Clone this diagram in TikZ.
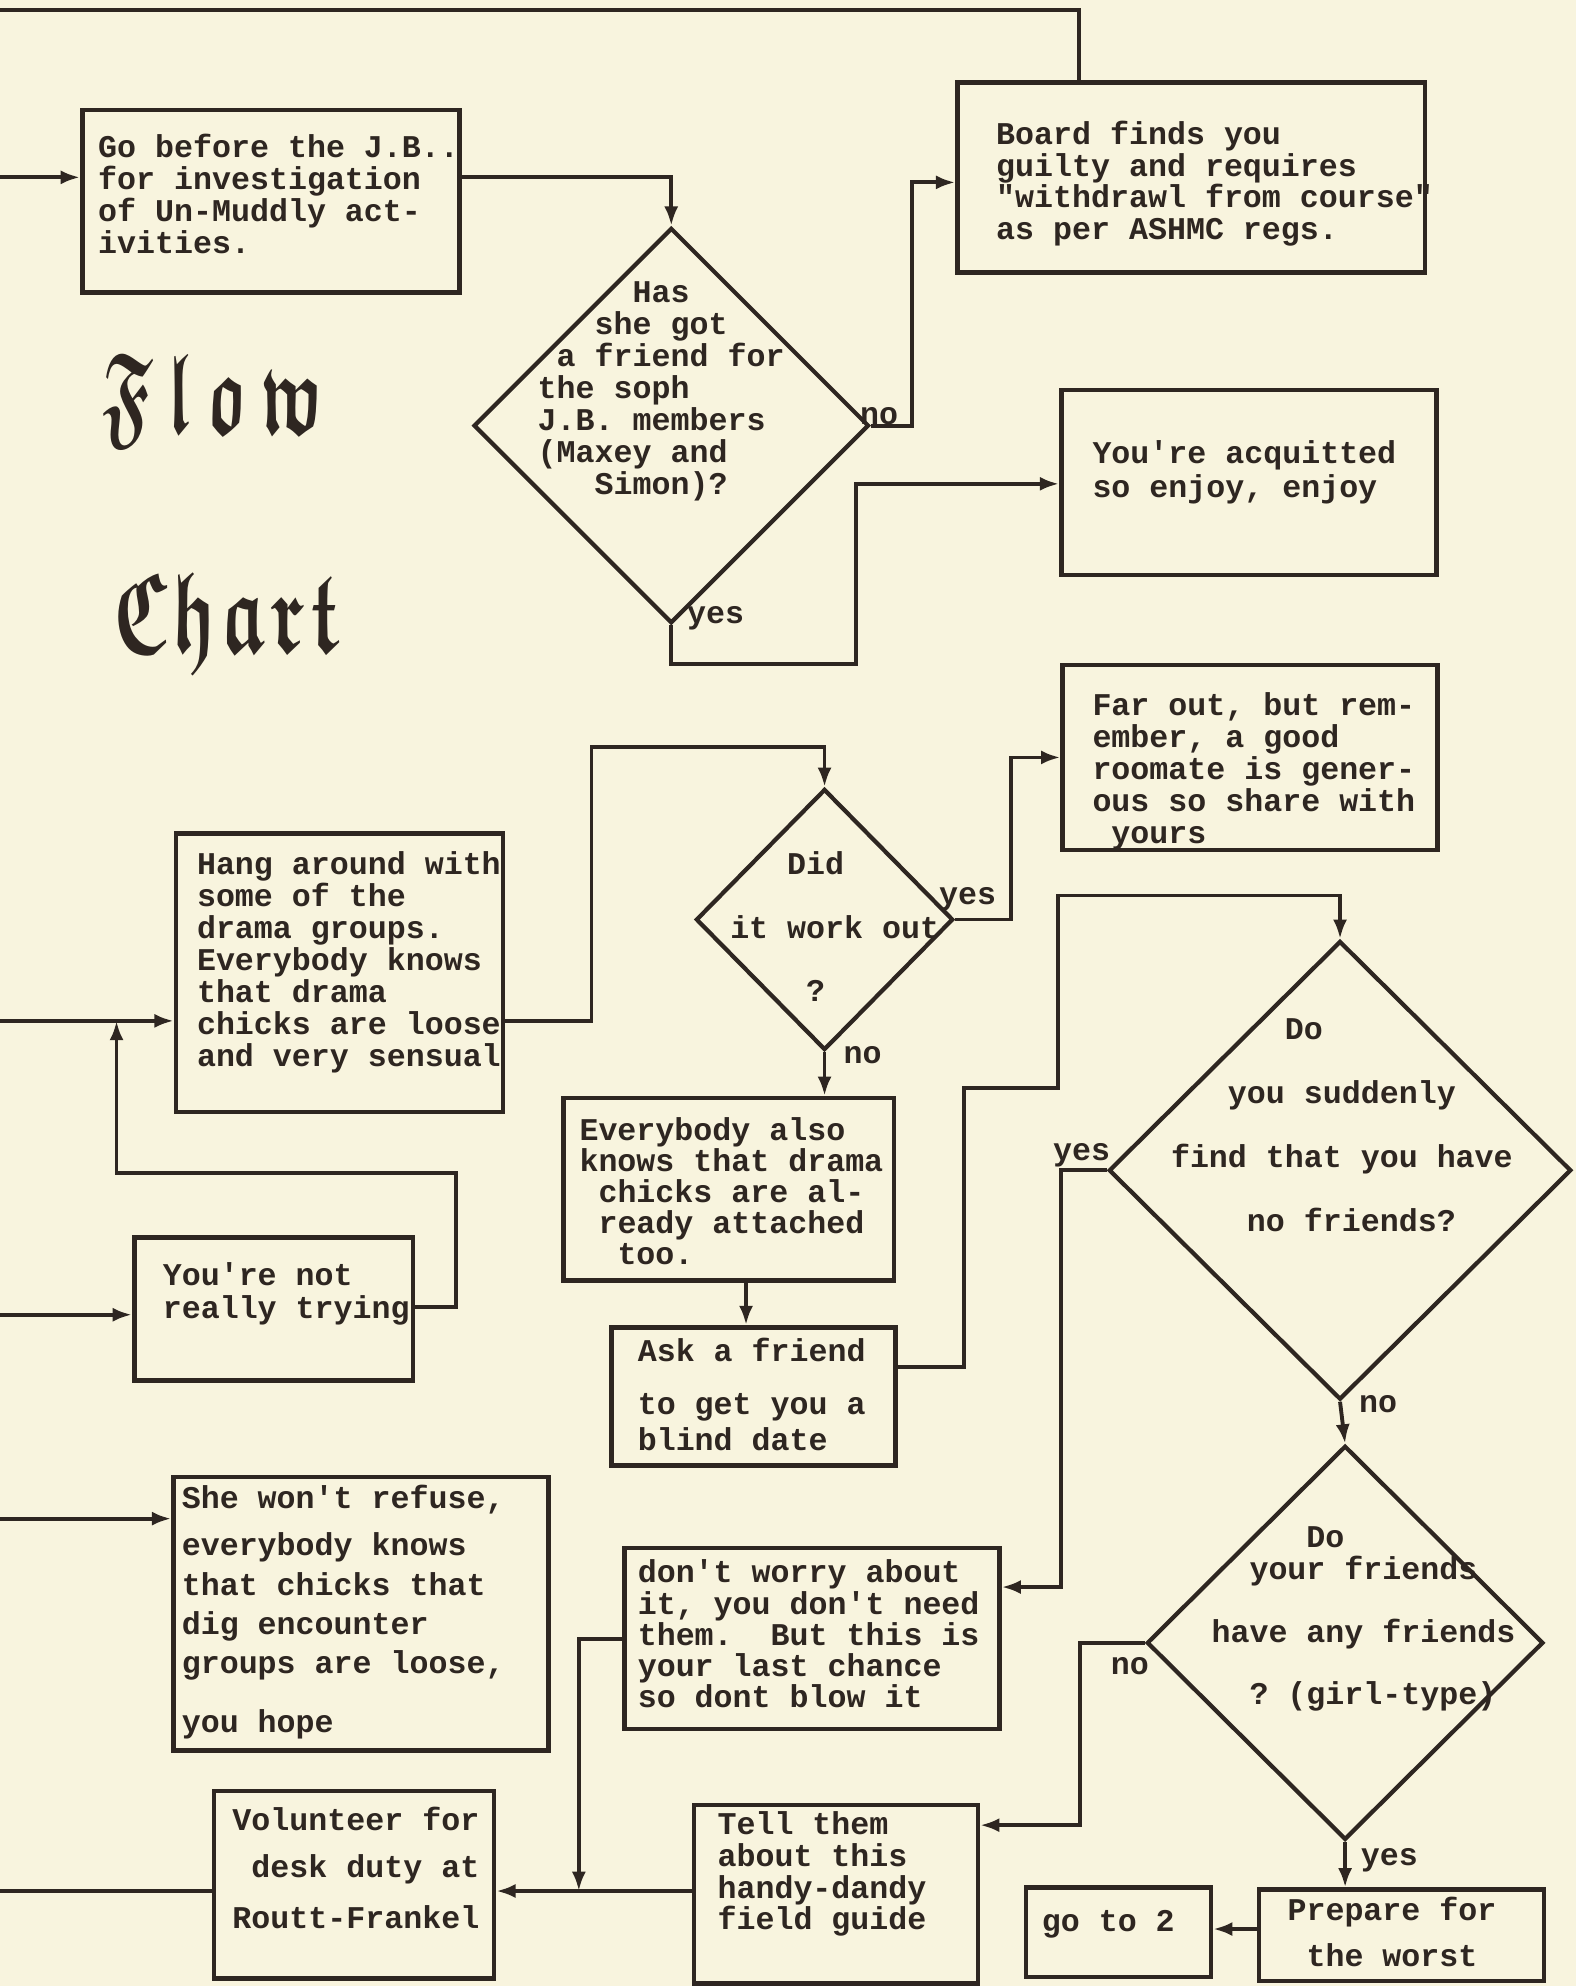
\documentclass[tikz,border=0pt]{standalone}
\usepackage{amsmath,amssymb}
\usepackage{fontspec}
\setmonofont{Liberation Mono}
\usetikzlibrary{fit,shapes.geometric,arrows.meta}
\definecolor{bg}{HTML}{F8F4DE}
\definecolor{ink}{HTML}{2E2621}
\tikzset{
  boxn/.style={draw=ink, line width=1.3pt, inner sep=0pt},
  dia/.style={diamond, draw=ink, line width=1.2pt, inner sep=0pt},
  conn/.style={draw=ink, line width=1.1pt},
  arr/.style={conn, -{Latex[length=5.5pt,width=4pt]}},
  txt/.style={anchor=north west, inner sep=0pt, align=left, text=ink},
  tw/.style={font=\ttfamily\bfseries\fontsize{9}{#1}\selectfont},
  lbl/.style={anchor=mid, inner sep=0pt, text=ink, font=\ttfamily\bfseries\fontsize{9}{9}\selectfont},
  ttl/.style={anchor=base west, inner sep=0pt, text=ink, font=\fontsize{33}{33}\selectfont}
}
\newcommand{\frk}[1]{$\boldsymbol{\mathfrak{#1}}$}
\begin{document}
\begin{tikzpicture}[x=0.012669cm,y=-0.012669cm]
\fill[bg] (0,0) rectangle (1244,1568);
\useasboundingbox (0,0) rectangle (1244,1568);

% title
\node[ttl] (flow) at (80,342) {\scalebox{0.6}[1]{\frk{F}\hspace{7pt}\frk{l}\hspace{7pt}\frk{o}\hspace{6pt}\frk{w}}};
\node[ttl] (chart) at (89,515) {\scalebox{0.64}[1]{\frk{C}\hspace{2pt}\frk{h}\hspace{2pt}\frk{a}\hspace{2pt}\frk{r}\hspace{2pt}\frk{t}}};

% boxes
\node[boxn, fit={(65,87) (363,231)}] (go) {};
\node[boxn, fit={(756,65) (1125,215)}] (board) {};
\node[boxn, fit={(838,308) (1134,454)}] (acq) {};
\node[boxn, fit={(839,525) (1135,671)}] (far) {};
\node[boxn, fit={(139,658) (397,878)}] (hang) {};
\node[boxn, fit={(106,977) (326,1090)}] (notry) {};
\node[boxn, fit={(445,867) (706,1011)}] (every) {};
\node[boxn, fit={(483,1048) (707,1157)}] (ask) {};
\node[boxn, fit={(137,1166) (433,1382)}] (she) {};
\node[boxn, fit={(493,1222) (789,1365)}] (worry) {};
\node[boxn, fit={(548,1425) (772,1566)}] (tell) {};
\node[boxn, fit={(169,1414) (390,1562)}] (vol) {};
\node[boxn, fit={(810,1490) (956,1561)}] (goto) {};
\node[boxn, fit={(994,1492) (1219,1564)}] (prep) {};

% diamonds
\node[dia, minimum width=3.953cm, minimum height=3.953cm] (d1) at (530,336) {};
\node[dia, minimum width=2.572cm, minimum height=2.610cm] (d2) at (651,726) {};
\node[dia, minimum width=4.624cm, minimum height=4.586cm] (d3) at (1058,924) {};
\node[dia, minimum width=3.965cm, minimum height=3.940cm] (d4) at (1062,1297) {};

% texts
\node[txt, tw=9.1pt] (tgo) at (77,105) {Go before the J.B..\\for investigation\\of Un-Muddly act-\\ivities.};
\node[txt, tw=9pt] (tboard) at (786,95) {Board finds you\\guilty and requires\\"withdrawl from course"\\as per ASHMC regs.};
\node[txt, tw=9.7pt] (tacq) at (862,347) {You're acquitted\\so enjoy, enjoy};
\node[txt, tw=9.1pt] (tfar) at (862,546) {Far out, but rem-\\ember, a good\\roomate is gener-\\ous so share with\\~yours};
\node[txt, tw=9.1pt] (thang) at (155,672) {Hang around with\\some of the\\drama groups.\\Everybody knows\\that drama\\chicks are loose\\and very sensual};
\node[txt, tw=9.4pt] (tnotry) at (128,996) {You're not\\really trying};
\node[txt, tw=8.8pt] (tevery) at (457,882) {Everybody also\\knows that drama\\~chicks are al-\\~ready attached\\~~too.};
\node[txt, tw=10.1pt] (task) at (503,1056) {Ask a friend\\[5pt]to get you a\\blind date};
\node[txt, tw=11.2pt] (tshe) at (143,1172) {She won't refuse,\\[2.2pt]everybody knows\\that chicks that\\dig encounter\\groups are loose,\\[5.4pt]you hope};
\node[txt, tw=13.3pt] (tvol) at (183,1426) {Volunteer for\\~desk duty at\\[1.4pt]Routt-Frankel};
\node[txt, tw=8.9pt] (tworry) at (503,1231) {don't worry about\\it, you don't need\\them.~~But this is\\your last chance\\so dont blow it};
\node[txt, tw=9pt] (ttell) at (566,1430) {Tell them\\about this\\handy-dandy\\field guide};
\node[txt, tw=13.3pt] (tprep) at (1016,1497) {Prepare for\\~the worst};
\node[txt, tw=9pt] (tgoto) at (822,1508) {go to 2};
\node[txt, tw=9.1pt] (td1) at (424,222) {~~~~~Has\\~~~she got\\~a friend for\\the soph\\J.B. members\\(Maxey and\\~~~Simon)?};
\node[txt, tw=18pt] (td2) at (576,672) {~~~Did\\it work out\\~~~~?};
\node[txt, tw=18.2pt] (td3) at (924,804) {~~~~~~Do\\~~~you suddenly\\find that you have\\~~~~no friends?};
\node[txt, tw=9pt] (td4) at (956,1205) {~~~~~Do\\~~your friends\\[9pt]have any friends\\[8.7pt]~~? (girl-type)};

% labels
\node[lbl] (l1) at (694,329) {no};
\node[lbl] (l2) at (565,486) {yes};
\node[lbl] (l3) at (764,708) {yes};
\node[lbl] (l4) at (681,834) {no};
\node[lbl] (l5) at (854,910) {yes};
\node[lbl] (l6) at (1088,1109) {no};
\node[lbl] (l7) at (892,1316) {no};
\node[lbl] (l8) at (1097,1467) {yes};

% free ends
\coordinate (e0) at (0,8);
\coordinate (e1) at (0,140);
\coordinate (e2) at (0,806);
\coordinate (e3) at (0,1038);
\coordinate (e4) at (0,1199);
\coordinate (e5) at (0,1493);
\coordinate (j1) at (457,1493);
\coordinate (j2) at (92,806);

% connectors
\draw[conn] (e0) -| (board.north -| 852,0);
\draw[arr] (e1) -- (go.west |- e1);
\draw[arr] (go.east |- e1) -| (d1.north);
\draw[arr] (d1.east) -| (720,144) -- (board.west |- 0,144);
\draw[arr] (d1.south) |- (676,524) |- (acq.west |- 0,382);
\draw[arr] (e2) -- (hang.west |- e2);
\draw[arr] (hang.east |- e2) -| (467,590) -| (d2.north);
\draw[arr] (d2.east) -| (798,598) -- (far.west |- 0,598);
\draw[arr] (d2.south) -- (d2.south |- every.north);
\draw[arr] (every.south -| 589,0) -- (ask.north -| 589,0);
\draw[arr] (notry.east |- 0,1032) -| (360,926) -| (j2);
\draw[arr] (e3) -- (notry.west |- e3);
\draw[arr] (ask.east |- 0,1079) -| (761,859) -| (835,707) -| (d3.north);
\draw[arr] (d3.west) -| (838,1253) -- (worry.east |- 0,1253);
\draw[arr] (d3.south) -- (d4.north);
\draw[arr] (d4.west) -| (853,1441) -- (tell.east |- 0,1441);
\draw[arr] (d4.south) -- (d4.south |- prep.north);
\draw[arr] (prep.west |- 0,1523) -- (goto.east |- 0,1523);
\draw[arr] (e4) -- (she.west |- e4);
\draw[arr] (worry.west |- 0,1294) -| (j1);
\draw[arr] (tell.west |- e5) -- (vol.east |- e5);
\draw[conn] (vol.west |- e5) -- (e5);
\end{tikzpicture}
\end{document}
